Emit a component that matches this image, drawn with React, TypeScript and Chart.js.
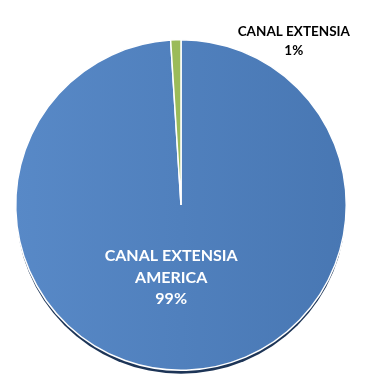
import React, { useEffect, useRef } from "react";
import { Chart, registerables } from "chart.js";

Chart.register(...registerables);

const categories: string[][] = [["CANAL EXTENSIA", "AMERICA"], ["CANAL EXTENSIA"]];
const values: number[] = [99, 1];
const percentLabels: string[] = ["99%", "1%"];
const sliceColors: string[] = ["#4f81bd", "#9bbb59"];

const FONT = "Lato, 'Open Sans', sans-serif";

const pieDecor = {
  id: "pieDecor",
  beforeDatasetsDraw(chart: any) {
    const meta = chart.getDatasetMeta(0);
    const arc = meta.data[0];
    if (!arc) return;
    const { x, y, outerRadius } = arc.getProps(["x", "y", "outerRadius"], true);
    const ctx = chart.ctx;
    ctx.save();
    ctx.beginPath();
    ctx.arc(x, y + 4, outerRadius - 0.5, 0, Math.PI * 2);
    ctx.fillStyle = "#1d3557";
    ctx.fill();
    ctx.restore();
  },
  afterDatasetsDraw(chart: any) {
    const meta = chart.getDatasetMeta(0);
    const ctx = chart.ctx;
    ctx.save();
    ctx.textAlign = "center";
    ctx.textBaseline = "middle";
    // big slice label inside
    const a0 = meta.data[0];
    const p0 = a0.getProps(["x", "y", "startAngle", "endAngle", "outerRadius"], true);
    const mid0 = (p0.startAngle + p0.endAngle) / 2;
    const lx = p0.x + Math.cos(mid0) * p0.outerRadius * 0.42 - 12;
    const ly = p0.y + Math.sin(mid0) * p0.outerRadius * 0.42 + 3;
    ctx.fillStyle = "#ffffff";
    ctx.font = `bold 16px ${FONT}`;
    const lines0 = [...categories[0], percentLabels[0]];
    lines0.forEach((t, i) => ctx.fillText(t, lx, ly - 21.5 + i * 21.5));
    // small slice label outside
    const a1 = meta.data[1];
    const p1 = a1.getProps(["x", "y", "startAngle", "endAngle", "outerRadius"], true);
    const mid1 = (p1.startAngle + p1.endAngle) / 2;
    const ox = p1.x + Math.cos(mid1) * p1.outerRadius;
    const oy = p1.y + Math.sin(mid1) * p1.outerRadius;
    ctx.fillStyle = "#000000";
    ctx.font = `bold 13.5px ${FONT}`;
    const lines1 = [...categories[1], percentLabels[1]];
    lines1.forEach((t, i) => ctx.fillText(t, ox + 118, oy - 8 + i * 19));
    ctx.restore();
  },
};

export default function App() {
  const ref = useRef<HTMLCanvasElement>(null);
  useEffect(() => {
    const canvas = ref.current!;
    const ctx = canvas.getContext("2d")!;
    const grad = ctx.createLinearGradient(14, 0, 348, 0);
    grad.addColorStop(0, "#5889c7");
    grad.addColorStop(1, "#4877b3");
    const chart = new Chart(canvas, {
      type: "pie",
      data: {
        labels: categories.map((c) => c.join(" ")),
        datasets: [
          {
            data: values,
            backgroundColor: [grad, sliceColors[1]],
            borderColor: "#ffffff",
            borderWidth: 1.5,
          },
        ],
      },
      options: {
        responsive: false,
        animation: false,
        layout: { padding: { left: 15, right: 23, top: 39, bottom: 21 } },
        plugins: { legend: { display: false }, tooltip: { enabled: false } },
      },
      plugins: [pieDecor],
    });
    return () => chart.destroy();
  }, []);
  return (
    <div style={{ position: "fixed", left: 0, top: 0, width: 370, height: 392, background: "#fff" }}>
      <canvas ref={ref} width={370} height={392} />
    </div>
  );
}
